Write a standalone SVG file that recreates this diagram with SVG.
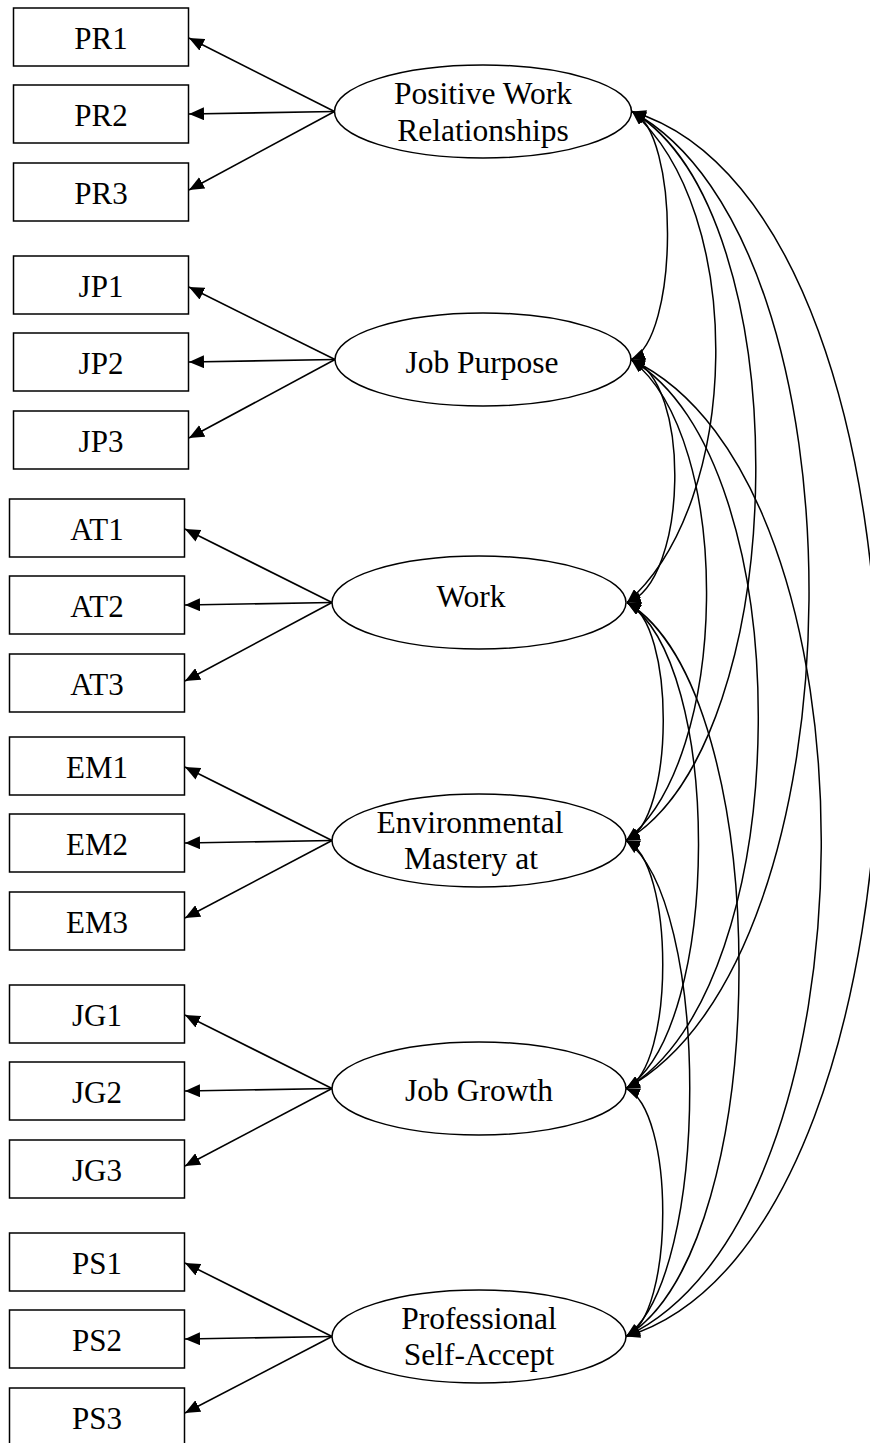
<svg xmlns="http://www.w3.org/2000/svg" width="870" height="1443" viewBox="0 0 870 1443">
<defs>
<style>
.box{fill:#fff;stroke:#000;stroke-width:1.5}
.lat{fill:#fff;stroke:#000;stroke-width:1.5}
.t{font-family:"Liberation Serif","Times New Roman",serif;font-size:31px;fill:#000;text-anchor:middle}
.lt{font-family:"Liberation Serif","Times New Roman",serif;font-size:31.5px;fill:#000;text-anchor:middle}
.ld{fill:none;stroke:#000;stroke-width:1.6;marker-end:url(#ah)}
.cv{fill:none;stroke:#000;stroke-width:1.5;marker-start:url(#ch);marker-end:url(#ch)}
</style>
<marker id="ah" markerUnits="userSpaceOnUse" viewBox="0 0 15 13" refX="15" refY="6.5" markerWidth="15" markerHeight="13" orient="auto"><path d="M0,0 L15,6.5 L0,13 z" fill="#000"/></marker>
<marker id="ch" markerUnits="userSpaceOnUse" viewBox="0 0 14 11" refX="14" refY="5.5" markerWidth="14" markerHeight="11" orient="auto-start-reverse"><path d="M0,0 L14,5.5 L0,11 z" fill="#000"/></marker>
</defs>
<rect width="870" height="1443" fill="#fff"/>

<g id="PR1"><rect class="box" x="13.5" y="8" width="175" height="58"/><text class="t" x="101" y="49">PR1</text></g>
<g id="PR2"><rect class="box" x="13.5" y="85" width="175" height="58"/><text class="t" x="101" y="126">PR2</text></g>
<g id="PR3"><rect class="box" x="13.5" y="163" width="175" height="58"/><text class="t" x="101" y="204">PR3</text></g>
<g id="PR"><ellipse class="lat" cx="483" cy="111.5" rx="148.5" ry="46.5"/><text class="lt" x="483" y="104">Positive Work</text><text class="lt" x="483" y="141">Relationships</text></g>

<g id="JP1"><rect class="box" x="13.5" y="256" width="175" height="58"/><text class="t" x="101" y="297">JP1</text></g>
<g id="JP2"><rect class="box" x="13.5" y="333" width="175" height="58"/><text class="t" x="101" y="374">JP2</text></g>
<g id="JP3"><rect class="box" x="13.5" y="411" width="175" height="58"/><text class="t" x="101" y="452">JP3</text></g>
<g id="JP"><ellipse class="lat" cx="483" cy="359.5" rx="148" ry="46.5"/><text class="lt" x="482" y="372.5">Job Purpose</text></g>

<g id="AT1"><rect class="box" x="9.5" y="499" width="175" height="58"/><text class="t" x="97" y="540">AT1</text></g>
<g id="AT2"><rect class="box" x="9.5" y="576" width="175" height="58"/><text class="t" x="97" y="617">AT2</text></g>
<g id="AT3"><rect class="box" x="9.5" y="654" width="175" height="58"/><text class="t" x="97" y="695">AT3</text></g>
<g id="AT"><ellipse class="lat" cx="479" cy="602.5" rx="147" ry="46.5"/><text class="lt" x="471" y="607">Work</text></g>

<g id="EM1"><rect class="box" x="9.5" y="737" width="175" height="58"/><text class="t" x="97" y="778">EM1</text></g>
<g id="EM2"><rect class="box" x="9.5" y="814" width="175" height="58"/><text class="t" x="97" y="855">EM2</text></g>
<g id="EM3"><rect class="box" x="9.5" y="892" width="175" height="58"/><text class="t" x="97" y="933">EM3</text></g>
<g id="EM"><ellipse class="lat" cx="479" cy="840.5" rx="147" ry="46.5"/><text class="lt" x="470" y="833">Environmental</text><text class="lt" x="471" y="869">Mastery at</text></g>

<g id="JG1"><rect class="box" x="9.5" y="985" width="175" height="58"/><text class="t" x="97" y="1026">JG1</text></g>
<g id="JG2"><rect class="box" x="9.5" y="1062" width="175" height="58"/><text class="t" x="97" y="1103">JG2</text></g>
<g id="JG3"><rect class="box" x="9.5" y="1140" width="175" height="58"/><text class="t" x="97" y="1181">JG3</text></g>
<g id="JG"><ellipse class="lat" cx="479" cy="1088.5" rx="147" ry="46.5"/><text class="lt" x="479" y="1101">Job Growth</text></g>

<g id="PS1"><rect class="box" x="9.5" y="1233" width="175" height="58"/><text class="t" x="97" y="1274">PS1</text></g>
<g id="PS2"><rect class="box" x="9.5" y="1310" width="175" height="58"/><text class="t" x="97" y="1351">PS2</text></g>
<g id="PS3"><rect class="box" x="9.5" y="1388" width="175" height="58"/><text class="t" x="97" y="1429">PS3</text></g>
<g id="PS"><ellipse class="lat" cx="479" cy="1336.5" rx="147" ry="46.5"/><text class="lt" x="479" y="1328.5">Professional</text><text class="lt" x="479" y="1364.5">Self-Accept</text></g>

<g id="connectors">
<path class="ld" d="M334.5,111.5 L189,38"/>
<path class="ld" d="M334.5,111.5 L189,114"/>
<path class="ld" d="M334.5,111.5 L189,190"/>
<path class="ld" d="M335,359.5 L189,287"/>
<path class="ld" d="M335,359.5 L189,362"/>
<path class="ld" d="M335,359.5 L189,438"/>
<path class="ld" d="M332,602.5 L185,529"/>
<path class="ld" d="M332,602.5 L185,605"/>
<path class="ld" d="M332,602.5 L185,681"/>
<path class="ld" d="M332,840.5 L185,767"/>
<path class="ld" d="M332,840.5 L185,843"/>
<path class="ld" d="M332,840.5 L185,918"/>
<path class="ld" d="M332,1088.5 L185,1015"/>
<path class="ld" d="M332,1088.5 L185,1091"/>
<path class="ld" d="M332,1088.5 L185,1166"/>
<path class="ld" d="M332,1336.5 L185,1263"/>
<path class="ld" d="M332,1336.5 L185,1339"/>
<path class="ld" d="M332,1336.5 L185,1413"/>

<path class="cv" d="M632,111.5 C680,131.5 679,339.5 631,359.5"/>
<path class="cv" d="M632,111.5 C747,211.5 742,502.5 627,602.5"/>
<path class="cv" d="M632,111.5 C801,211.5 795,740.5 626,840.5"/>
<path class="cv" d="M632,111.5 C872,241.5 866,958.5 626,1088.5"/>
<path class="cv" d="M632,111.5 C965,211.5 959,1236.5 626,1336.5"/>
<path class="cv" d="M631,359.5 C692,379.5 688,582.5 627,602.5"/>
<path class="cv" d="M631,359.5 C735,439.5 730,760.5 626,840.5"/>
<path class="cv" d="M631,359.5 C804,459.5 799,988.5 626,1088.5"/>
<path class="cv" d="M631,359.5 C888,479.5 883,1216.5 626,1336.5"/>
<path class="cv" d="M627,602.5 C676,622.5 675,820.5 626,840.5"/>
<path class="cv" d="M627,602.5 C723,662.5 722,1028.5 626,1088.5"/>
<path class="cv" d="M627,602.5 C777,692.5 776,1246.5 626,1336.5"/>
<path class="cv" d="M626,840.5 C675,860.5 675,1068.5 626,1088.5"/>
<path class="cv" d="M626,840.5 C711,900.5 711,1276.5 626,1336.5"/>
<path class="cv" d="M626,1088.5 C675,1108.5 675,1316.5 626,1336.5"/>
</g>
</svg>
